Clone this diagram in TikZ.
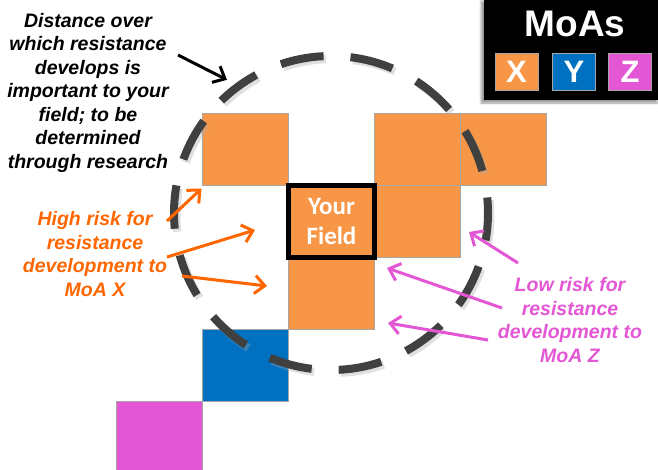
\documentclass[tikz,border=0pt]{standalone}
\usepackage{fontspec}
\setmainfont{Liberation Sans}
\newfontfamily\fieldfont{Carlito}
\usepackage{xcolor}
\definecolor{orange-400}{RGB}{247,150,70}
\definecolor{orange-700}{RGB}{255,102,0}
\definecolor{blue-700}{RGB}{0,112,192}
\definecolor{pink-500}{RGB}{227,86,212}
\definecolor{gray-400}{RGB}{166,166,166}
\definecolor{gray-800}{RGB}{64,64,64}
\usetikzlibrary{arrows.meta,positioning,shadows.blur}

\begin{document}
\begin{tikzpicture}[x=1pt, y=-1pt,
    cell/.style={draw=gray-400, line width=1.2pt, fill=#1, minimum width=86pt, minimum height=72pt, inner sep=0pt, outer sep=0pt},
    key box/.style={draw=gray-400, line width=1pt, fill=#1, minimum width=43pt, minimum height=37pt, inner sep=0pt, text=white, font=\fontsize{31}{31}\selectfont\bfseries},
    note/.style={font=\fontsize{19.5}{23.5}\selectfont\bfseries\itshape, align=center, inner sep=0pt, text=#1},
    arrow/.style={-{Straight Barb[length=10pt,width=18pt]}, line width=3pt, #1}
]
\useasboundingbox (0,0) rectangle (658,469);

% Field grid
\node[cell=orange-400, text=white, font=\fieldfont\fontsize{25}{30}\selectfont\bfseries, align=center] (field) at (331.5,221.5) {Your\\Field};
\node[cell=orange-400, above left=0pt of field] (c11) {};
\node[cell=orange-400, right=0pt of field] (c32) {};
\node[cell=orange-400, above=0pt of c32] (c31) {};
\node[cell=orange-400, right=0pt of c31] (c41) {};
\node[cell=orange-400, below=0pt of field] (c23) {};
\node[cell=blue-700, below left=0pt of c23] (c14) {};
\node[cell=pink-500, below left=0pt of c14] (c05) {};
\draw[black, line width=5.5pt] (field.north west) rectangle (field.south east);

% Resistance distance ring
\coordinate (ring) at (331,213);
\draw[gray!70, opacity=0.35, line width=8pt, dash pattern=on 43.5pt off 27pt, dash phase=16pt] ([shift={(2.5,3)}]ring) circle[radius=157];
\draw[gray-800, line width=8pt, dash pattern=on 43.5pt off 27pt, dash phase=16pt] (ring) circle[radius=157];

% Ring note
\node[note=black] (distance) at (88,92.5) {Distance over\\which resistance\\develops is\\important to your\\field; to be\\determined\\through research};
\draw[arrow=black] ([shift={(90,-37.5)}]distance.center) -- ([shift={(232:169)}]ring);

% High risk note
\node[note=orange-700] (high) at (95,254) {High risk for\\resistance\\development to\\MoA X};
\draw[arrow=orange-700] ([shift={(72,-33)}]high.center) -- ([shift={(-1,3)}]c11.south west);
\draw[arrow=orange-700] ([shift={(72,3)}]high.center) -- ([shift={(-33.5,8.5)}]field.west);
\draw[arrow=orange-700] ([shift={(87,22)}]high.center) -- ([shift={(-21.5,-7.5)}]c23.west);

% Low risk note
\node[note=pink-500] (low) at (570,320) {Low risk for\\resistance\\development to\\MoA Z};
\draw[arrow=pink-500] ([shift={(-52,-57)}]low.center) -- ([shift={(8.5,10.5)}]c32.east);
\draw[arrow=pink-500] ([shift={(-68,-12)}]low.center) -- ([shift={(12.5,10.5)}]c23.north east);
\draw[arrow=pink-500] ([shift={(-82,20)}]low.center) -- ([shift={(13.5,29.5)}]c23.east);

% Legend
\node[fill=black, minimum width=176pt, minimum height=102pt, blur shadow={shadow xshift=-3pt, shadow yshift=-3pt}] (legend) at (572,49) {};
\node[text=white, font=\fontsize{37}{37}\selectfont\bfseries] (moas) at (575,24) {MoAs};
\node[key box=orange-400] (keyx) at (516.5,71.5) {X};
\node[key box=blue-700, right=13.5pt of keyx] (keyy) {Y};
\node[key box=pink-500, right=12pt of keyy] (keyz) {Z};

\end{tikzpicture}
\end{document}
